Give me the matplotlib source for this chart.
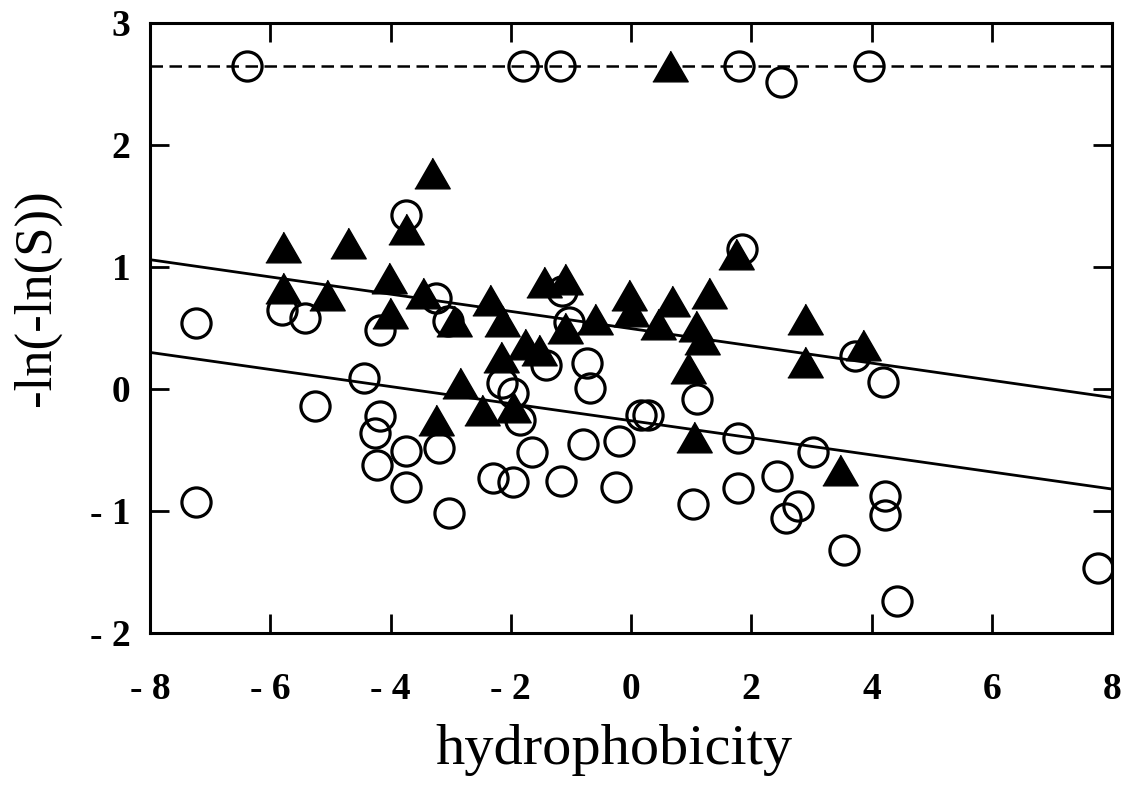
import numpy as np
import matplotlib
matplotlib.use("Agg")
import matplotlib.pyplot as plt

plt.rcParams['font.family'] = ['Liberation Serif', 'DejaVu Serif']

# open circles
circle_x = [-6.38, -1.80, -1.18, 1.79, 2.49, 3.96,
            -7.24, -7.24, -5.81, -5.42, -5.25, -4.44, -4.18, -4.17, -4.25, -4.23,
            -3.74, -3.74, -3.74, -3.25, -3.05, -3.20, -3.03, -2.30, -1.97,
            -2.14, -1.96, -1.84, -1.65, -1.42, -1.17, -1.03, -1.15,
            -0.74, -0.68, -0.80, -0.20, -0.25, 0.16, 0.28, 1.10, 1.03,
            1.78, 1.78, 1.85, 2.42, 2.78, 2.58, 3.03, 3.55, 3.73, 4.19,
            4.22, 4.22, 4.43, 7.76]
circle_y = [2.65, 2.65, 2.65, 2.65, 2.52, 2.65,
            0.54, -0.93, 0.65, 0.58, -0.14, 0.09, 0.48, -0.22, -0.36, -0.62,
            1.43, -0.51, -0.80, 0.75, 0.56, -0.48, -1.02, -0.73, -0.76,
            0.05, -0.03, -0.25, -0.52, 0.20, -0.75, 0.55, 0.80,
            0.21, 0.01, -0.45, -0.43, -0.80, -0.21, -0.21, -0.08, -0.94,
            -0.40, -0.81, 1.15, -0.71, -0.96, -1.06, -0.52, -1.32, 0.27, 0.06,
            -0.88, -1.03, -1.74, -1.47]

# filled triangles
tri_x = [0.65, -3.31, -3.75, -5.78, -4.71, -5.78, -5.06, -4.02, -4.01, -3.46,
         -2.95, -2.35, -2.15, -1.45, -1.10, -1.10, -0.60, -0.03, 0.00, 0.45,
         0.68, 1.08, 1.18, 1.30, 1.75, 2.89, 3.86, 2.90, 0.94, 1.05, 3.47,
         -1.77, -1.53, -2.17, -2.85, -2.47, -1.96, -3.24]
tri_y = [2.65, 1.77, 1.31, 1.16, 1.20, 0.83, 0.77, 0.91, 0.62, 0.79,
         0.56, 0.73, 0.56, 0.88, 0.90, 0.50, 0.57, 0.77, 0.64, 0.53,
         0.72, 0.52, 0.41, 0.79, 1.11, 0.57, 0.36, 0.22, 0.17, -0.39, -0.66,
         0.37, 0.32, 0.26, 0.05, -0.17, -0.15, -0.25]

# fitted lines (end points) and saturation level
fit_x = [-8, 8]
upper_fit = [1.06, -0.07]
lower_fit = [0.30, -0.82]
sat_level = 2.65

xticks = [-8, -6, -4, -2, 0, 2, 4, 6, 8]
xtick_labels = ['- 8', '- 6', '- 4', '- 2', '0', '2', '4', '6', '8']
yticks = [-2, -1, 0, 1, 2, 3]
ytick_labels = ['- 2', '- 1', '0', '1', '2', '3']

fig = plt.figure(figsize=(11.28, 7.93), dpi=100)
ax = fig.add_axes([150 / 1128, 1 - 633 / 793, 962 / 1128, 610 / 793])

ax.plot(fit_x, [sat_level, sat_level], color='black', lw=1.8,
        dashes=(5, 2.6), zorder=1)
ax.plot(fit_x, upper_fit, color='black', lw=2.0, zorder=1)
ax.plot(fit_x, lower_fit, color='black', lw=2.0, zorder=1)

ax.plot(circle_x, circle_y, linestyle='none', marker='o', markersize=21,
        markerfacecolor='none', markeredgecolor='black', markeredgewidth=2.3,
        zorder=2)
tri = [(-1, -0.866), (1, -0.866), (0, 0.866)]
ax.plot(tri_x, tri_y, linestyle='none', marker=tri, markersize=25.5,
        color='black', zorder=3)

ax.set_xlim(-8, 8)
ax.set_ylim(-2, 3)
ax.set_xticks(xticks, labels=xtick_labels)
ax.set_yticks(yticks, labels=ytick_labels)
ax.tick_params(direction='in', length=14, width=2, top=True, right=True,
               labelsize=27)
ax.tick_params(axis='x', pad=28)
ax.tick_params(axis='y', pad=14)
for lab in ax.get_xticklabels() + ax.get_yticklabels():
    lab.set_fontweight('bold')
for s in ax.spines.values():
    s.set_linewidth(2.2)

ax.set_xlabel('hydrophobicity', fontsize=42)
ax.xaxis.set_label_coords(0.482, -0.15)
ax.set_ylabel('-ln(-ln(S))', fontsize=38)
ax.yaxis.set_label_coords(-0.093, 0.55)

fig.savefig('out.png', dpi=100)
